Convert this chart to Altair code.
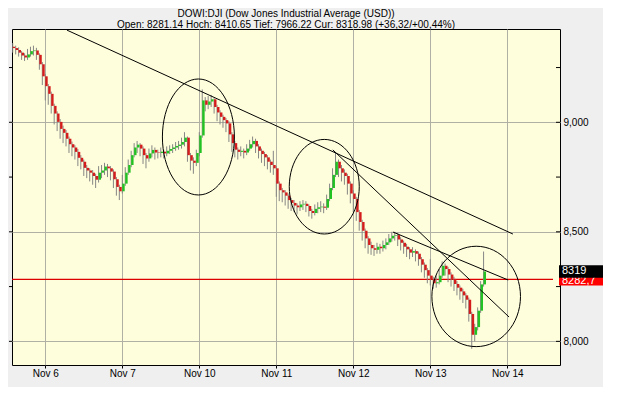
import altair as alt
import pandas as pd

# ---------------- data ----------------
closes = [9339, 9330, 9318, 9305, 9296, 9310, 9325, 9328, 9308, 9265,
          9210, 9165, 9130, 9075, 9040, 9002, 8970, 8952, 8925, 8900,
          8885, 8865, 8838, 8820, 8792, 8780, 8770, 8755, 8738, 8770,
          8780, 8798, 8790, 8775, 8740, 8705, 8685, 8720, 8770, 8805,
          8850, 8885, 8898, 8880, 8850, 8835, 8858, 8874, 8862, 8860,
          8866, 8858, 8870, 8878, 8885, 8892, 8898, 8910, 8930, 8850,
          8825, 8815, 8860, 8940, 9100, 9080, 9095, 9105, 9070, 9045,
          9025, 9010, 8995, 8945, 8905, 8875, 8865, 8870, 8862, 8880,
          8900, 8915, 8890, 8870, 8855, 8840, 8820, 8805, 8790, 8720,
          8690, 8680, 8665, 8645, 8632, 8620, 8612, 8625, 8628, 8618,
          8595, 8586, 8605, 8612, 8615, 8610, 8650, 8700, 8760, 8820,
          8790, 8770, 8755, 8720, 8675, 8650, 8590, 8545, 8505, 8470,
          8440, 8425, 8418, 8432, 8425, 8440, 8452, 8470, 8482, 8485,
          8465, 8450, 8432, 8420, 8405, 8412, 8400, 8375, 8350, 8325,
          8300, 8282, 8265, 8270, 8300, 8345, 8330, 8305, 8285, 8262,
          8245, 8228, 8210, 8190, 8125, 8030, 8065, 8140, 8260, 8319]

highs = [9362, 9350, 9342, 9325, 9315, 9335, 9345, 9350, 9340, 9315,
         9275, 9220, 9175, 9140, 9085, 9050, 9015, 8985, 8965, 8935,
         8912, 8895, 8878, 8850, 8830, 8805, 8790, 8782, 8765, 8800,
         8805, 8815, 8810, 8800, 8785, 8750, 8715, 8760, 8795, 8830,
         8870, 8905, 8915, 8905, 8890, 8860, 8880, 8895, 8885, 8875,
         8885, 8875, 8890, 8895, 8900, 8910, 8915, 8930, 8955, 8935,
         8860, 8840, 8875, 8955, 9150, 9115, 9120, 9125, 9110, 9080,
         9055, 9035, 9020, 9005, 8955, 8915, 8885, 8890, 8880, 8900,
         8920, 8935, 8925, 8900, 8880, 8865, 8850, 8830, 8870, 8800,
         8730, 8700, 8690, 8675, 8655, 8645, 8630, 8640, 8645, 8640,
         8625, 8605, 8625, 8635, 8640, 8630, 8670, 8720, 8790, 8860,
         8830, 8805, 8785, 8765, 8730, 8690, 8660, 8600, 8555, 8515,
         8480, 8455, 8440, 8450, 8445, 8460, 8470, 8490, 8500, 8500,
         8495, 8475, 8460, 8445, 8430, 8430, 8420, 8410, 8385, 8360,
         8335, 8375, 8295, 8300, 8330, 8365, 8355, 8340, 8315, 8295,
         8275, 8255, 8240, 8220, 8200, 8135, 8080, 8155, 8275, 8410]

lows = [9318, 9310, 9300, 9285, 9280, 9285, 9300, 9305, 9285, 9240,
        9170, 9100, 9080, 9040, 8990, 8960, 8925, 8905, 8890, 8860,
        8845, 8830, 8800, 8785, 8755, 8745, 8730, 8715, 8700, 8725,
        8745, 8760, 8750, 8735, 8700, 8665, 8645, 8675, 8710, 8760,
        8795, 8840, 8860, 8845, 8810, 8790, 8820, 8840, 8830, 8835,
        8840, 8835, 8845, 8855, 8860, 8870, 8875, 8880, 8890, 8820,
        8780, 8765, 8800, 8845, 8930, 9050, 9060, 9070, 9040, 9005,
        8990, 8975, 8955, 8910, 8865, 8840, 8830, 8845, 8835, 8850,
        8870, 8885, 8860, 8835, 8815, 8800, 8785, 8770, 8760, 8660,
        8640, 8635, 8620, 8605, 8595, 8590, 8580, 8595, 8600, 8590,
        8570, 8560, 8575, 8585, 8590, 8585, 8600, 8640, 8690, 8750,
        8750, 8730, 8715, 8670, 8630, 8590, 8550, 8505, 8460, 8425,
        8400, 8395, 8390, 8400, 8400, 8410, 8420, 8440, 8455, 8460,
        8435, 8415, 8400, 8385, 8375, 8385, 8365, 8345, 8315, 8290,
        8265, 8255, 8240, 8245, 8260, 8290, 8300, 8270, 8250, 8230,
        8210, 8190, 8175, 8150, 8090, 7966, 8000, 8050, 8130, 8250]

first_open = 9345

day_labels = ["Nov 6", "Nov 7", "Nov 10", "Nov 11", "Nov 12", "Nov 13", "Nov 14"]
day_start_bar = [11, 37, 63, 89, 115, 141, 167]
grid_prices = [8000, 8500, 9000]
minor_prices = [8000, 8250, 8500, 8750, 9000, 9250]

ref_price = 8282.7
ref_label = "8282,7"
last_price = 8319
last_label = "8319"

trend_bar1 = [18.3, 108.1, 128.4]
trend_price1 = [9421, 8874, 8499]
trend_bar2 = [168.9, 167.6, 167.3]
trend_price2 = [8490, 8111, 8280]

ellipse_bar = [62.7, 105.2, 156.5]
ellipse_price = [8933, 8706, 8205]

title_text = "DOWI:DJI (Dow Jones Industrial Average (USD))"
subtitle_text = "Open: 8281.14 Hoch: 8410.65 Tief: 7966.22 Cur: 8318.98 (+36,32/+00,44%)"

# ---------------- tables ----------------
opens = [first_open] + closes[:-1]
candles = pd.DataFrame({
    "bar": list(range(len(closes))),
    "open": opens, "close": closes, "high": highs, "low": lows,
})
trend = pd.DataFrame({"b1": trend_bar1, "p1": trend_price1,
                      "b2": trend_bar2, "p2": trend_price2})
ticks_df = pd.DataFrame({"p": minor_prices})
ref_df = pd.DataFrame({"p": [ref_price], "t": [ref_label]})
last_df = pd.DataFrame({"p": [last_price], "t": [last_label]})
title_df = pd.DataFrame({"t": [title_text], "s": [subtitle_text]})

FONT = "Liberation Sans"
W, H = 548, 336

label_expr = "[" + ",".join("'%s'" % s for s in day_labels) + "][indexof([" + \
    ",".join(str(v) for v in day_start_bar) + "], datum.value)]"

xscale = alt.Scale(domain=[-0.24, 184.8], nice=False, zero=False)
yscale = alt.Scale(domain=[7892, 9426], nice=False, zero=False)
xaxis = alt.Axis(values=day_start_bar, labelExpr=label_expr, title=None,
                 grid=True, gridColor="#b0b0a4", gridWidth=1, domain=False,
                 ticks=True, tickSize=3, tickColor="black", labelPadding=0,
                 labelFont=FONT, labelFontSize=10, labelColor="black")
yaxis = alt.Axis(values=grid_prices, orient="right", title=None, grid=True,
                 gridColor="#b0b0a4", gridWidth=1, domain=False, ticks=False,
                 tickSize=0, labelPadding=3, labelFont=FONT, labelFontSize=10,
                 labelColor="black")


def X(f):
    return alt.X(f, type="quantitative", scale=xscale, axis=xaxis)


def Y(f):
    return alt.Y(f, type="quantitative", scale=yscale, axis=yaxis)


def ellipse_path(a):
    k = 0.5523
    return ("M 1 0 C 1 {b} {k} {a} 0 {a} C {nk} {a} -1 {b} -1 0 "
            "C -1 {nb} {nk} {na} 0 {na} C {k} {na} 1 {nb} 1 0 Z").format(
        a=round(a, 4), b=round(a * k, 4), k=k, nk=-k, na=round(-a, 4),
        nb=round(-a * k, 4))


box_path = "M -1 -0.28 L 1 -0.28 L 1 0.28 L -1 0.28 Z"

red_line = alt.Chart(ref_df).mark_rule(color="#dd0000", strokeWidth=1.4).encode(
    y=Y("p"), x=alt.value(0), x2=alt.value(541))

wicks = alt.Chart(candles).mark_rule(color="#858585", strokeWidth=1).encode(
    x=X("bar"), y=Y("low"), y2="high")

bodies = alt.Chart(candles).mark_rule(strokeWidth=2.4, xOffset=1.2).encode(
    x=X("bar"), y=Y("open"), y2="close",
    color=alt.condition("datum.close >= datum.open",
                        alt.value("#22c222"), alt.value("#d41c1c")))

trendlines = alt.Chart(trend).mark_rule(color="black", strokeWidth=1).encode(
    x=X("b1"), y=Y("p1"), x2="b2", y2="p2")

ell_specs = [(1.611, 5184), (1.351, 4900), (1.133, 7850)]
ellipses = []
for i, (aspect, size) in enumerate(ell_specs):
    d = pd.DataFrame({"b": [ellipse_bar[i]], "p": [ellipse_price[i]]})
    ellipses.append(
        alt.Chart(d).mark_point(shape=ellipse_path(aspect), filled=False,
                                stroke="black", strokeWidth=1, size=size,
                                opacity=1).encode(x=X("b"), y=Y("p")))

right_ticks = alt.Chart(ticks_df).mark_rule(color="black").encode(
    y=Y("p"), x=alt.value(W - 4), x2=alt.value(W))
left_ticks = alt.Chart(ticks_df).mark_rule(color="black").encode(
    y=Y("p"), x=alt.value(-3), x2=alt.value(0))

red_box = alt.Chart(ref_df).mark_point(shape=box_path, filled=True,
                                       color="#ff0000", size=1936, opacity=1,
                                       strokeWidth=0).encode(
    y=Y("p"), x=alt.value(W + 21))
red_txt = alt.Chart(ref_df).mark_text(align="left", baseline="middle", dy=2,
                                      font=FONT, fontSize=11,
                                      color="white").encode(
    y=Y("p"), x=alt.value(W + 2), text="t:N")
blk_box = alt.Chart(last_df).mark_point(shape=box_path, filled=True,
                                        color="black", size=1936, opacity=1,
                                        strokeWidth=0).encode(
    y=Y("p"), x=alt.value(W + 21))
blk_txt = alt.Chart(last_df).mark_text(align="left", baseline="middle",
                                       font=FONT, fontSize=11,
                                       color="white").encode(
    y=Y("p"), x=alt.value(W + 2), text="t:N")

title1 = alt.Chart(title_df).mark_text(align="center", baseline="alphabetic",
                                       font=FONT, fontSize=10,
                                       color="black").encode(
    x=alt.value(W / 2), y=alt.value(-12.5), text="t:N")
title2 = alt.Chart(title_df).mark_text(align="center", baseline="alphabetic",
                                       font=FONT, fontSize=10,
                                       color="black").encode(
    x=alt.value(W / 2), y=alt.value(-1.5), text="s:N")

chart = alt.layer(
    red_line, wicks, bodies, trendlines, *ellipses, right_ticks, left_ticks,
    red_box, red_txt, blk_box, blk_txt, title1, title2
).properties(
    width=W, height=H,
    autosize=alt.AutoSizeParams(type="none"),
    padding={"left": 4, "top": 21, "right": 43, "bottom": 22},
    background="#efefef",
).configure_view(
    fill="#fffedc", stroke="black", strokeWidth=1
)

chart.save("out.html", embed_options={"renderer": "svg", "actions": False})
